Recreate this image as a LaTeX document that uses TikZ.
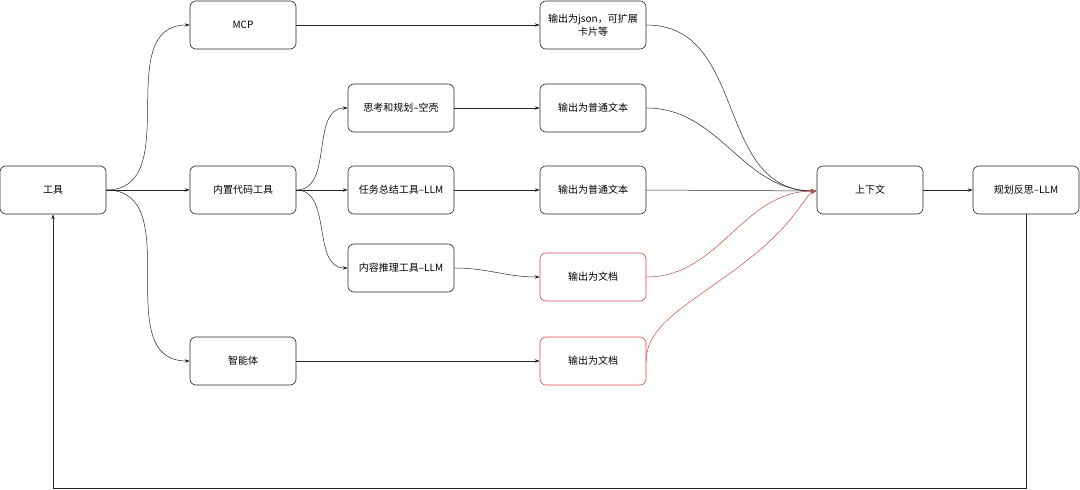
\documentclass[tikz,border=0pt]{standalone}
\usepackage{fontspec}
\newfontfamily\cjk{Noto Sans CJK SC}
\usetikzlibrary{arrows.meta}
\definecolor{redb}{HTML}{D9433B}
\begin{document}
\begin{tikzpicture}[x=1pt,y=-1pt,
 box/.style={draw=black!85,rounded corners=6pt,minimum width=106pt,minimum height=48pt,font=\cjk\fontsize{10}{13}\selectfont,align=center,line width=0.6pt,inner sep=2pt},
 rbox/.style={box,draw=redb},
 ar/.style={-{Stealth[length=5pt,width=3.5pt]},line width=0.5pt,draw=black!85},
 rar/.style={ar,draw=redb}]
\useasboundingbox (0,0) rectangle (1080,490);
\node[box] (tool) at (53,190) {工具};
\node[box] (mcp) at (243,25) {MCP};
\node[box] (code) at (243,190) {内置代码工具};
\node[box] (agent) at (243,361) {智能体};
\node[box] (think) at (401,108) {思考和规划–空壳};
\node[box] (sum) at (401,190) {任务总结工具–LLM};
\node[box] (reason) at (401,268) {内容推理工具–LLM};
\node[box,text width=98pt] (json) at (593,25) {输出为json，可扩展\\卡片等};
\node[box] (t1) at (593,108) {输出为普通文本};
\node[box] (t2) at (593,190) {输出为普通文本};
\node[rbox] (d1) at (593,277) {输出为文档};
\node[rbox] (d2) at (593,361) {输出为文档};
\node[box] (ctx) at (870,190) {上下文};
\node[box] (plan) at (1026,190) {规划反思–LLM};
\coordinate (in) at (816,191);
\coordinate (c1) at (1026,488);
\coordinate (c2) at (53,488);

\draw[ar] (tool.east) to[out=0,in=180,looseness=1.1] (mcp.west);
\draw[ar] (tool.east) -- (code.west);
\draw[ar] (tool.east) to[out=0,in=180,looseness=1.1] (agent.west);
\draw[ar] (code.east) to[out=0,in=180] (think.west);
\draw[ar] (code.east) -- (sum.west);
\draw[ar] (code.east) to[out=0,in=180] (reason.west);
\draw[ar] (mcp.east) -- (json.west);
\draw[ar] (think.east) -- (t1.west);
\draw[ar] (sum.east) -- (t2.west);
\draw[ar] (reason.east) to[out=0,in=180] (d1.west);
\draw[ar] (agent.east) -- (d2.west);
\draw[ar] (json.east) to[out=0,in=180,looseness=1.1] (in);
\draw[ar] (t1.east) to[out=0,in=180] (in);
\draw[ar] (t2.east) -- (in);
\draw[rar] (d1.east) to[out=0,in=180] (in);
\draw[rar] (d2.east) .. controls (646,320) and (700,300) .. (760,250) .. controls (800,215) and (805,195) .. (in);
\draw[ar] (ctx.east) -- (plan.west);
\draw[ar] (plan.south) -- (c1) -- (c2) -- (tool.south);
\end{tikzpicture}
\end{document}
